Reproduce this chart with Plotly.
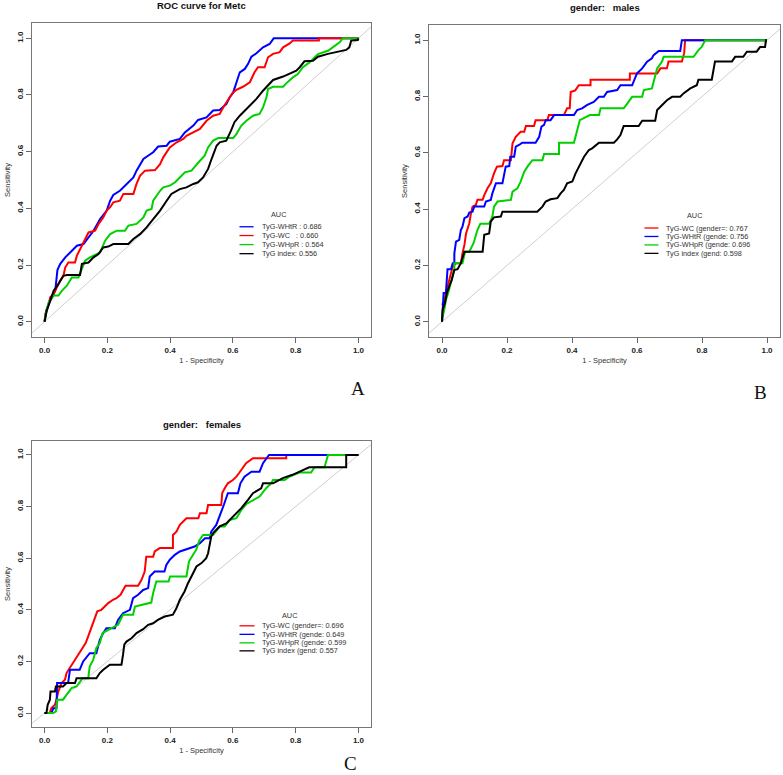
import plotly.graph_objects as go

# ---------------- data (1 - specificity, sensitivity) ----------------
PANEL_TITLES = ["ROC curve for Metc", "gender:\u00a0\u00a0\u00a0males", "gender:\u00a0\u00a0\u00a0females"]
PANEL_LETTERS = ["A", "B", "C"]
TICK_VALUES = [0.0, 0.2, 0.4, 0.6, 0.8, 1.0]
TICK_LABELS = ["0.0", "0.2", "0.4", "0.6", "0.8", "1.0"]

# Panel A: all subjects
A_NAMES = ["TyG-WHtR", "TyG-WC", "TyG-WHpR", "TyG index"]
A_AUC = [0.686, 0.660, 0.564, 0.556]
A_LABELS = ["TyG-WHtR : 0.686", "TyG-WC\u00a0\u00a0\u00a0: 0.660", "TyG-WHpR : 0.564", "TyG index: 0.556"]
A_COLORS = ["#0000FF", "#FF0000", "#00D000", "#000000"]
A_WHTR = [(0, 0), (0.005, 0.039), (0.018, 0.074), (0.034, 0.109), (0.041, 0.182), (0.05, 0.204), (0.066, 0.227),
          (0.082, 0.245), (0.103, 0.268), (0.124, 0.274), (0.137, 0.292), (0.156, 0.321), (0.177, 0.362),
          (0.198, 0.392), (0.209, 0.427), (0.219, 0.447), (0.24, 0.462), (0.262, 0.486), (0.283, 0.509),
          (0.293, 0.533), (0.304, 0.556), (0.315, 0.574), (0.325, 0.582), (0.346, 0.598), (0.362, 0.618),
          (0.389, 0.621), (0.399, 0.635), (0.431, 0.645), (0.447, 0.668), (0.474, 0.692), (0.489, 0.712),
          (0.516, 0.721), (0.537, 0.745), (0.558, 0.747), (0.579, 0.768), (0.59, 0.792), (0.601, 0.809),
          (0.611, 0.845), (0.622, 0.88), (0.638, 0.892), (0.648, 0.909), (0.659, 0.935), (0.675, 0.947),
          (0.696, 0.968), (0.717, 0.98), (0.73, 1.0), (1.0, 1.0)]
A_WC = [(0, 0), (0.003, 0.027), (0.013, 0.062), (0.018, 0.086), (0.029, 0.098), (0.039, 0.121), (0.05, 0.145),
        (0.06, 0.162), (0.066, 0.192), (0.076, 0.209), (0.097, 0.209), (0.103, 0.233), (0.119, 0.268),
        (0.129, 0.292), (0.14, 0.315), (0.161, 0.321), (0.172, 0.345), (0.187, 0.368), (0.198, 0.392),
        (0.209, 0.404), (0.219, 0.421), (0.24, 0.427), (0.251, 0.451), (0.283, 0.451), (0.293, 0.486),
        (0.304, 0.515), (0.32, 0.533), (0.352, 0.535), (0.368, 0.556), (0.378, 0.58), (0.389, 0.598),
        (0.399, 0.615), (0.421, 0.633), (0.442, 0.645), (0.452, 0.656), (0.474, 0.668), (0.495, 0.68),
        (0.516, 0.709), (0.537, 0.727), (0.558, 0.733), (0.569, 0.756), (0.59, 0.792), (0.601, 0.809),
        (0.611, 0.818), (0.632, 0.829), (0.654, 0.845), (0.669, 0.88), (0.68, 0.898), (0.701, 0.898),
        (0.712, 0.933), (0.728, 0.945), (0.749, 0.951), (0.76, 0.968), (0.781, 0.982), (0.791, 0.992),
        (0.874, 0.992), (0.874, 1.0), (1.0, 1.0)]
A_WHPR = [(0, 0), (0.004, 0.027), (0.013, 0.068), (0.029, 0.092), (0.044, 0.092), (0.055, 0.109), (0.071, 0.127),
          (0.087, 0.156), (0.108, 0.156), (0.119, 0.186), (0.129, 0.215), (0.145, 0.227), (0.177, 0.245),
          (0.193, 0.286), (0.209, 0.309), (0.23, 0.321), (0.256, 0.321), (0.267, 0.339), (0.293, 0.345),
          (0.315, 0.368), (0.325, 0.392), (0.341, 0.398), (0.346, 0.427), (0.368, 0.462), (0.378, 0.474),
          (0.399, 0.48), (0.416, 0.492), (0.431, 0.509), (0.447, 0.527), (0.468, 0.533), (0.484, 0.556),
          (0.495, 0.568), (0.51, 0.586), (0.521, 0.615), (0.537, 0.639), (0.553, 0.648), (0.601, 0.648),
          (0.611, 0.662), (0.627, 0.692), (0.643, 0.709), (0.664, 0.727), (0.685, 0.733), (0.696, 0.756),
          (0.707, 0.792), (0.712, 0.821), (0.728, 0.829), (0.76, 0.829), (0.77, 0.841), (0.791, 0.862),
          (0.807, 0.874), (0.823, 0.898), (0.844, 0.915), (0.871, 0.944), (0.903, 0.956), (0.918, 0.968),
          (0.94, 0.986), (0.95, 1.0), (1.0, 1.0)]
A_TYG = [(0, 0), (0.007, 0.039), (0.018, 0.074), (0.029, 0.109), (0.044, 0.133), (0.06, 0.162), (0.071, 0.165),
         (0.113, 0.165), (0.119, 0.204), (0.14, 0.209), (0.156, 0.227), (0.172, 0.239), (0.187, 0.262),
         (0.203, 0.265), (0.219, 0.274), (0.267, 0.274), (0.283, 0.292), (0.304, 0.309), (0.325, 0.333),
         (0.341, 0.356), (0.368, 0.392), (0.389, 0.427), (0.404, 0.451), (0.431, 0.468), (0.452, 0.474),
         (0.474, 0.486), (0.489, 0.492), (0.505, 0.509), (0.521, 0.539), (0.532, 0.574), (0.548, 0.621),
         (0.558, 0.633), (0.579, 0.639), (0.594, 0.674), (0.605, 0.704), (0.622, 0.727), (0.638, 0.745),
         (0.654, 0.762), (0.675, 0.786), (0.696, 0.815), (0.717, 0.841), (0.728, 0.853), (0.76, 0.865),
         (0.781, 0.876), (0.802, 0.886), (0.813, 0.898), (0.828, 0.919), (0.855, 0.921), (0.871, 0.935),
         (0.903, 0.945), (0.929, 0.951), (0.961, 0.959), (0.971, 0.968), (0.977, 0.992), (0.998, 0.994),
         (1.0, 1.0)]

# Panel B: males
B_NAMES = ["TyG-WC", "TyG-WHtR", "TyG-WHpR", "TyG index"]
B_AUC = [0.767, 0.756, 0.696, 0.598]
B_LABELS = ["TyG-WC (gender=: 0.767", "TyG-WHtR (gende: 0.756", "TyG-WHpR (gende: 0.696", "TyG index (gend: 0.598"]
B_COLORS = ["#FF0000", "#0000FF", "#00D000", "#000000"]
B_WC = [(0, 0.06), (0.007, 0.072), (0.012, 0.102), (0.017, 0.125), (0.026, 0.161), (0.033, 0.196), (0.043, 0.208),
        (0.058, 0.208), (0.063, 0.243), (0.069, 0.273), (0.074, 0.314), (0.084, 0.35), (0.089, 0.385),
        (0.094, 0.409), (0.104, 0.415), (0.109, 0.433), (0.125, 0.433), (0.13, 0.45), (0.14, 0.474),
        (0.15, 0.492), (0.16, 0.527), (0.169, 0.551), (0.186, 0.553), (0.191, 0.574), (0.212, 0.574),
        (0.217, 0.634), (0.227, 0.657), (0.242, 0.675), (0.253, 0.675), (0.258, 0.695), (0.283, 0.695),
        (0.288, 0.716), (0.324, 0.716), (0.329, 0.734), (0.375, 0.734), (0.385, 0.758), (0.393, 0.758),
        (0.396, 0.816), (0.41, 0.822), (0.421, 0.84), (0.457, 0.84), (0.457, 0.86), (0.578, 0.86),
        (0.578, 0.882), (0.662, 0.882), (0.672, 0.9), (0.692, 0.9), (0.697, 0.924), (0.738, 0.924),
        (0.745, 0.953), (0.748, 1.0), (1.0, 1.0)]
B_WHTR = [(0, 0), (0.002, 0.043), (0.005, 0.102), (0.012, 0.102), (0.017, 0.187), (0.028, 0.187), (0.033, 0.208),
          (0.038, 0.208), (0.038, 0.243), (0.043, 0.285), (0.053, 0.291), (0.058, 0.326), (0.063, 0.338),
          (0.069, 0.368), (0.079, 0.374), (0.084, 0.388), (0.094, 0.391), (0.099, 0.409), (0.13, 0.409),
          (0.135, 0.427), (0.15, 0.433), (0.155, 0.456), (0.166, 0.492), (0.186, 0.492), (0.191, 0.527),
          (0.196, 0.551), (0.207, 0.553), (0.21, 0.586), (0.222, 0.586), (0.227, 0.622), (0.237, 0.628),
          (0.247, 0.636), (0.288, 0.636), (0.299, 0.657), (0.306, 0.693), (0.314, 0.699), (0.319, 0.716),
          (0.334, 0.716), (0.345, 0.734), (0.406, 0.734), (0.416, 0.752), (0.431, 0.758), (0.447, 0.77),
          (0.467, 0.781), (0.483, 0.799), (0.498, 0.799), (0.508, 0.816), (0.539, 0.823), (0.549, 0.84),
          (0.585, 0.84), (0.6, 0.882), (0.616, 0.9), (0.631, 0.924), (0.646, 0.936), (0.651, 0.947),
          (0.667, 0.962), (0.733, 0.962), (0.738, 1.0), (1.0, 1.0)]
B_WHPR = [(0, 0), (0.002, 0.019), (0.007, 0.043), (0.012, 0.078), (0.019, 0.102), (0.028, 0.143), (0.038, 0.187),
          (0.038, 0.208), (0.063, 0.208), (0.071, 0.249), (0.084, 0.249), (0.097, 0.279), (0.109, 0.326),
          (0.118, 0.348), (0.145, 0.348), (0.155, 0.374), (0.16, 0.409), (0.171, 0.427), (0.212, 0.433),
          (0.217, 0.462), (0.232, 0.474), (0.242, 0.498), (0.253, 0.533), (0.263, 0.551), (0.278, 0.574),
          (0.309, 0.574), (0.314, 0.596), (0.36, 0.596), (0.36, 0.636), (0.406, 0.636), (0.424, 0.716),
          (0.455, 0.734), (0.483, 0.734), (0.488, 0.758), (0.559, 0.758), (0.57, 0.775), (0.585, 0.799),
          (0.616, 0.799), (0.621, 0.823), (0.646, 0.829), (0.656, 0.876), (0.662, 0.9), (0.677, 0.924),
          (0.682, 0.941), (0.774, 0.941), (0.789, 0.965), (0.799, 0.976), (0.81, 1.0), (1.0, 1.0)]
B_TYG = [(0, 0), (0.002, 0.043), (0.009, 0.066), (0.015, 0.102), (0.022, 0.125), (0.03, 0.149), (0.038, 0.184),
         (0.048, 0.187), (0.058, 0.208), (0.069, 0.249), (0.125, 0.249), (0.13, 0.309), (0.145, 0.314),
         (0.15, 0.356), (0.16, 0.371), (0.181, 0.374), (0.186, 0.391), (0.293, 0.391), (0.309, 0.409),
         (0.319, 0.427), (0.334, 0.435), (0.355, 0.439), (0.365, 0.456), (0.375, 0.468), (0.385, 0.492),
         (0.401, 0.498), (0.411, 0.527), (0.426, 0.563), (0.437, 0.586), (0.452, 0.61), (0.462, 0.616),
         (0.483, 0.636), (0.529, 0.636), (0.539, 0.648), (0.549, 0.663), (0.559, 0.695), (0.605, 0.695),
         (0.616, 0.714), (0.656, 0.714), (0.662, 0.752), (0.677, 0.77), (0.692, 0.787), (0.708, 0.799),
         (0.733, 0.799), (0.743, 0.811), (0.764, 0.829), (0.784, 0.84), (0.789, 0.86), (0.83, 0.86),
         (0.84, 0.924), (0.892, 0.924), (0.902, 0.941), (0.927, 0.941), (0.938, 0.959), (0.968, 0.959),
         (0.979, 0.976), (0.994, 0.976), (0.997, 1.0), (1.0, 1.0)]

# Panel C: females
C_NAMES = ["TyG-WC", "TyG-WHtR", "TyG-WHpR", "TyG index"]
C_AUC = [0.696, 0.649, 0.599, 0.557]
C_LABELS = ["TyG-WC (gender=: 0.696", "TyG-WHtR (gende: 0.649", "TyG-WHpR (gende: 0.599", "TyG index (gend: 0.557"]
C_COLORS = ["#FF0000", "#0000FF", "#00D000", "#000000"]
C_WC = [(0, 0), (0.016, 0.0), (0.022, 0.019), (0.033, 0.032), (0.038, 0.052), (0.044, 0.084), (0.054, 0.116),
        (0.065, 0.129), (0.07, 0.155), (0.08, 0.174), (0.091, 0.194), (0.1, 0.213), (0.112, 0.232),
        (0.123, 0.258), (0.131, 0.271), (0.139, 0.297), (0.15, 0.335), (0.157, 0.361), (0.168, 0.394),
        (0.181, 0.4), (0.192, 0.413), (0.203, 0.426), (0.218, 0.439), (0.229, 0.445), (0.242, 0.458),
        (0.25, 0.477), (0.258, 0.493), (0.298, 0.493), (0.309, 0.516), (0.319, 0.548), (0.324, 0.606),
        (0.346, 0.606), (0.351, 0.626), (0.367, 0.639), (0.409, 0.639), (0.409, 0.69), (0.42, 0.703),
        (0.431, 0.729), (0.441, 0.742), (0.452, 0.755), (0.49, 0.755), (0.495, 0.774), (0.516, 0.774),
        (0.521, 0.806), (0.563, 0.806), (0.566, 0.852), (0.574, 0.871), (0.584, 0.89), (0.6, 0.903),
        (0.611, 0.916), (0.621, 0.932), (0.632, 0.951), (0.642, 0.968), (0.664, 0.987), (0.77, 0.987),
        (0.77, 1.0), (1.0, 1.0)]
C_WHTR = [(0, 0), (0.022, 0.0), (0.028, 0.019), (0.038, 0.019), (0.04, 0.116), (0.075, 0.116), (0.081, 0.168),
          (0.112, 0.168), (0.123, 0.2), (0.134, 0.219), (0.144, 0.232), (0.165, 0.232), (0.176, 0.284),
          (0.187, 0.31), (0.197, 0.329), (0.224, 0.329), (0.234, 0.361), (0.25, 0.387), (0.272, 0.4),
          (0.282, 0.445), (0.298, 0.458), (0.314, 0.477), (0.33, 0.484), (0.335, 0.529), (0.351, 0.548),
          (0.382, 0.548), (0.388, 0.574), (0.399, 0.594), (0.415, 0.613), (0.431, 0.626), (0.462, 0.639),
          (0.478, 0.645), (0.495, 0.658), (0.511, 0.677), (0.526, 0.677), (0.531, 0.703), (0.547, 0.729),
          (0.558, 0.761), (0.571, 0.806), (0.584, 0.852), (0.616, 0.852), (0.624, 0.89), (0.637, 0.916),
          (0.659, 0.935), (0.685, 0.935), (0.696, 0.968), (0.706, 0.987), (0.715, 1.0), (1.0, 1.0)]
C_WHPR = [(0, 0), (0.028, 0.0), (0.036, 0.006), (0.04, 0.052), (0.059, 0.052), (0.07, 0.071), (0.086, 0.097),
          (0.102, 0.103), (0.121, 0.135), (0.139, 0.135), (0.144, 0.181), (0.155, 0.206), (0.165, 0.252),
          (0.176, 0.271), (0.185, 0.31), (0.213, 0.329), (0.234, 0.342), (0.25, 0.381), (0.282, 0.381),
          (0.288, 0.413), (0.34, 0.428), (0.346, 0.465), (0.356, 0.51), (0.395, 0.51), (0.4, 0.529),
          (0.452, 0.529), (0.46, 0.587), (0.473, 0.613), (0.483, 0.632), (0.494, 0.671), (0.505, 0.69),
          (0.537, 0.69), (0.558, 0.723), (0.574, 0.723), (0.59, 0.748), (0.611, 0.755), (0.627, 0.787),
          (0.643, 0.81), (0.664, 0.826), (0.685, 0.839), (0.706, 0.871), (0.722, 0.89), (0.728, 0.903),
          (0.765, 0.903), (0.78, 0.916), (0.812, 0.932), (0.849, 0.932), (0.86, 0.952), (0.892, 0.952),
          (0.897, 0.974), (0.903, 1.0), (1.0, 1.0)]
C_TYG = [(0, 0), (0.006, 0.0), (0.01, 0.032), (0.017, 0.052), (0.019, 0.084), (0.033, 0.084), (0.036, 0.103),
         (0.059, 0.103), (0.07, 0.116), (0.097, 0.116), (0.102, 0.135), (0.165, 0.135), (0.176, 0.155),
         (0.187, 0.168), (0.208, 0.187), (0.245, 0.187), (0.25, 0.226), (0.254, 0.265), (0.261, 0.277),
         (0.277, 0.29), (0.293, 0.31), (0.314, 0.325), (0.33, 0.342), (0.346, 0.348), (0.361, 0.361),
         (0.383, 0.374), (0.409, 0.381), (0.42, 0.406), (0.431, 0.439), (0.446, 0.471), (0.457, 0.503),
         (0.473, 0.542), (0.484, 0.568), (0.5, 0.581), (0.515, 0.6), (0.521, 0.619), (0.531, 0.684),
         (0.537, 0.697), (0.558, 0.723), (0.579, 0.735), (0.6, 0.761), (0.627, 0.794), (0.648, 0.826),
         (0.664, 0.852), (0.69, 0.871), (0.696, 0.89), (0.728, 0.89), (0.759, 0.91), (0.79, 0.923),
         (0.812, 0.935), (0.843, 0.952), (0.961, 0.952), (0.961, 1.0), (1.0, 1.0)]

PANELS = [
    dict(curves=[A_WHTR, A_WC, A_WHPR, A_TYG], names=A_NAMES, labels=A_LABELS, colors=A_COLORS),
    dict(curves=[B_WC, B_WHTR, B_WHPR, B_TYG], names=B_NAMES, labels=B_LABELS, colors=B_COLORS),
    dict(curves=[C_WC, C_WHTR, C_WHPR, C_TYG], names=C_NAMES, labels=C_LABELS, colors=C_COLORS),
]

# ---------------- layout geometry ----------------
W, H = 783, 775
# plot boxes in pixels: (left, right, top, bottom)
BOXES = [(32, 371, 23, 337), (429, 780, 25, 337), (32, 371, 441, 727)]
TITLE_Y = [6, 7, 425]
LETTER_POS = [(358, 388), (760, 392), (350, 763)]
# legend placement in data coordinates: (auc_x, auc_y, line_x0, line_x1, text_x, row_ys)
LEGENDS = [
    (0.746, 0.378, 0.621, 0.666, 0.685, [0.335, 0.304, 0.272, 0.240]),
    (0.776, 0.376, 0.623, 0.666, 0.684, [0.333, 0.303, 0.273, 0.243]),
    (0.780, 0.377, 0.621, 0.669, 0.685, [0.338, 0.305, 0.272, 0.241]),
]
XR = [-0.04, 1.04]
YR = [-0.054, 1.054]

FONT = "Liberation Sans, Arial, sans-serif"

fig = go.Figure()
annotations = []
shapes = []
layout = {}

for i, (panel, box) in enumerate(zip(PANELS, BOXES)):
    sfx = "" if i == 0 else str(i + 1)
    xa, ya = "x" + sfx, "y" + sfx
    l, r, t, b = box
    layout["xaxis" + sfx] = dict(
        domain=[l / W, r / W], range=XR, anchor=ya,
        tickvals=TICK_VALUES, ticktext=TICK_LABELS, ticks="outside", ticklen=5,
        tickcolor="#666", tickwidth=1, showline=True, mirror=True, linecolor="#777",
        linewidth=1, showgrid=False, zeroline=False,
        tickfont=dict(family=FONT, size=8, color="#222", weight="bold"),
        title=dict(text="1 - Specificity", font=dict(family=FONT, size=7.5, color="#333"), standoff=4),
    )
    layout["yaxis" + sfx] = dict(
        domain=[1 - b / H, 1 - t / H], range=YR, anchor=xa,
        tickvals=TICK_VALUES, ticktext=TICK_LABELS, ticks="outside", ticklen=5,
        tickcolor="#666", tickwidth=1, showline=True, mirror=True, linecolor="#777",
        linewidth=1, showgrid=False, zeroline=False, tickangle=-90,
        tickfont=dict(family=FONT, size=8, color="#222", weight="bold"),
        title=dict(text="Sensitivity", font=dict(family=FONT, size=7.5, color="#333"), standoff=4),
    )
    # diagonal reference line
    fig.add_trace(go.Scatter(x=XR, y=XR, mode="lines", line=dict(color="#CFCFCF", width=1),
                             xaxis=xa, yaxis=ya, showlegend=False, hoverinfo="skip"))
    for curve, name, color in zip(panel["curves"], panel["names"], panel["colors"]):
        xs = [p[0] for p in curve]
        ys = [p[1] for p in curve]
        fig.add_trace(go.Scatter(x=xs, y=ys, mode="lines", name=name,
                                 line=dict(color=color, width=2),
                                 xaxis=xa, yaxis=ya, showlegend=False))
    # panel title
    annotations.append(dict(text="<b>" + PANEL_TITLES[i] + "</b>", xref="paper", yref="paper",
                            x=((l + r) / 2) / W, y=1 - TITLE_Y[i] / H, xanchor="center", yanchor="middle",
                            showarrow=False, font=dict(family=FONT, size=9.5, color="#111")))
    # panel letter
    lx, ly = LETTER_POS[i]
    annotations.append(dict(text=PANEL_LETTERS[i], xref="paper", yref="paper", x=lx / W, y=1 - ly / H,
                            xanchor="center", yanchor="middle", showarrow=False,
                            font=dict(family="Liberation Serif, serif", size=19, color="#111")))
    # legend
    ax, ay, lx0, lx1, tx, rows = LEGENDS[i]
    annotations.append(dict(text="AUC", xref=xa, yref=ya, x=ax, y=ay, xanchor="center", yanchor="middle",
                            showarrow=False, font=dict(family=FONT, size=7.3, color="#333")))
    for lab, color, ry in zip(panel["labels"], panel["colors"], rows):
        shapes.append(dict(type="line", xref=xa, yref=ya, x0=lx0, x1=lx1, y0=ry, y1=ry,
                           line=dict(color=color, width=1.3)))
        annotations.append(dict(text=lab, xref=xa, yref=ya, x=tx, y=ry, xanchor="left", yanchor="middle",
                                showarrow=False, font=dict(family=FONT, size=7.3, color="#333")))

fig.update_layout(
    width=W, height=H, margin=dict(l=0, r=0, t=0, b=0),
    paper_bgcolor="white", plot_bgcolor="white",
    showlegend=False, annotations=annotations, shapes=shapes,
    **layout,
)

fig.write_html("out.html", config={"displayModeBar": False},
               post_script="document.body.style.margin='0px';document.body.style.overflow='hidden';")
